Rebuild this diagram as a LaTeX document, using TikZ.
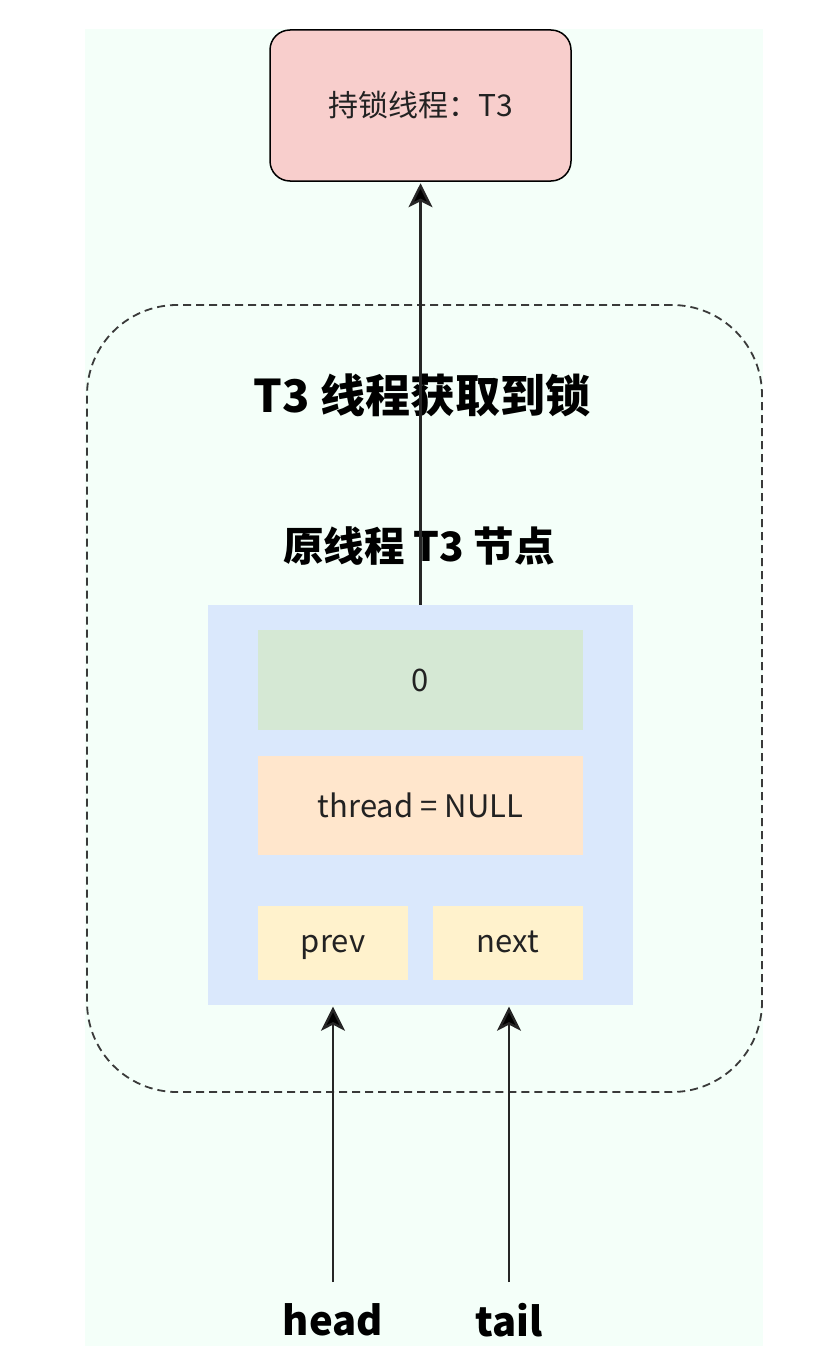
\documentclass[tikz,border=0pt]{standalone}
\usepackage{fontspec}
\setmainfont{Noto Sans CJK SC}
\usetikzlibrary{arrows.meta}
\definecolor{bgmint}{HTML}{F4FFF9}
\definecolor{pinkfill}{HTML}{F8CECC}
\definecolor{bluefill}{HTML}{DAE8FC}
\definecolor{greenfill}{HTML}{D5E8D4}
\definecolor{orangefill}{HTML}{FFE6CC}
\definecolor{yellowfill}{HTML}{FFF2CC}
\definecolor{txt}{HTML}{222222}
\definecolor{dashcol}{HTML}{3A3A3A}
\begin{document}
\begin{tikzpicture}[x=1pt,y=-1pt,
  box/.style={rectangle,inner sep=0pt,draw=none,text=txt,font=\fontsize{31}{34}\selectfont},
  ptrbox/.style={box,fill=yellowfill,minimum width=150pt,minimum height=74pt,text height=18pt,text depth=0pt},
  lockbox/.style={box,draw=black,line width=1.5pt,fill=pinkfill,rounded corners=20pt,font=\fontsize{30}{34}\selectfont},
  groupbox/.style={rectangle,inner sep=0pt,draw=dashcol,line width=1.8pt,dash pattern=on 8pt off 5pt,rounded corners=90pt},
  title/.style={inner sep=0pt,font=\bfseries\fontsize{40}{44}\selectfont,text=black},
  arr/.style={draw=black!85,line width=2.4pt,shorten >=1.5pt,-{Stealth[length=24pt,width=24pt,inset=6pt,fill=black]}}
]
\useasboundingbox (0,0) rectangle (822,1346);
\fill[bgmint] (85,29) rectangle (763,1346);

\node[lockbox,minimum width=301pt,minimum height=151pt] (lock) at (420.5,105.5) {持锁线程：T3};

\node[groupbox,minimum width=675pt,minimum height=787pt] (grp) at (424.5,698.5) {};
\node[title,font=\bfseries\fontsize{45}{50}\selectfont] (t1) at (422,395) {T3 线程获取到锁};
\node[title,font=\bfseries\fontsize{40.5}{45}\selectfont] (t2) at (419,546) {原线程 T3 节点};

\node[box,fill=bluefill,minimum width=425pt,minimum height=400pt] (node) at (420.5,805) {};
\node[box,fill=greenfill,minimum width=325pt,minimum height=100pt] (state) at (420.5,680) {0};
\node[box,fill=orangefill,minimum width=325pt,minimum height=99pt] (thread) at (420.5,805.5) {thread = NULL};
\node[ptrbox] (prev) at (333,943) {prev};
\node[ptrbox] (next) at (508,943) {next};

\node[title] (head) at (333,1320) {head};
\node[title] (tail) at (509,1320) {tail};
\coordinate (h0) at (333,1282);
\coordinate (t0) at (509,1282);

\draw[arr] (node.north) -- (lock.south);
\draw[arr] (h0) -- (h0 |- node.south);
\draw[arr] (t0) -- (t0 |- node.south);
\end{tikzpicture}
\end{document}
